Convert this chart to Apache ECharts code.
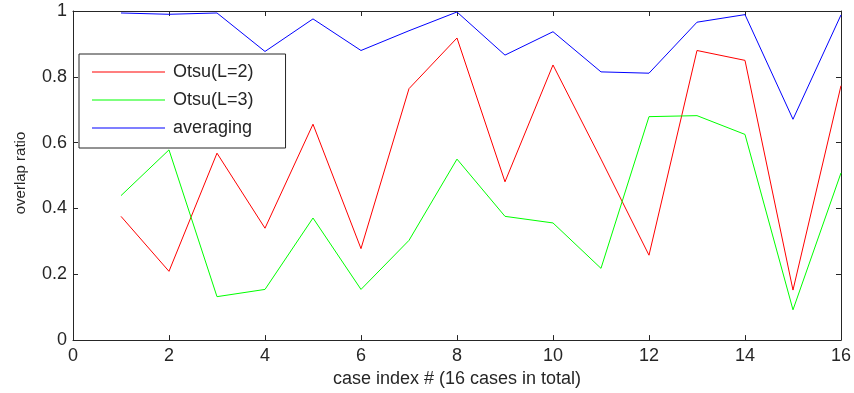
<!DOCTYPE html>
<html>
<head>
<meta charset="utf-8">
<script src="https://cdn.jsdelivr.net/npm/echarts@6/dist/echarts.min.js"></script>
<style>
  html, body { margin: 0; padding: 0; background: #fff; }
  #chart { width: 854px; height: 393px; }
</style>
</head>
<body>
<div id="chart"></div>
<script>
// case index 1..16
const cases = [1, 2, 3, 4, 5, 6, 7, 8, 9, 10, 11, 12, 13, 14, 15, 16];
const otsu2 = [0.376, 0.209, 0.568, 0.340, 0.656, 0.278, 0.764, 0.918, 0.481, 0.836, 0.550, 0.258, 0.880, 0.850, 0.152, 0.773];
const otsu3 = [0.439, 0.578, 0.132, 0.154, 0.371, 0.154, 0.303, 0.550, 0.376, 0.356, 0.218, 0.679, 0.682, 0.625, 0.092, 0.508];
const averaging = [0.994, 0.990, 0.994, 0.877, 0.976, 0.880, 0.940, 0.997, 0.866, 0.937, 0.815, 0.811, 0.966, 0.989, 0.671, 0.988];
const seriesNames = ['Otsu(L=2)', 'Otsu(L=3)', 'averaging'];
const colors = ['#ff0000', '#00ff00', '#0000ff'];

const font = 'Liberation Sans, Arial, sans-serif';
const pairs = arr => cases.map((c, i) => [c, arr[i]]);

const chart = echarts.init(document.getElementById('chart'));

// shared look of the box axes (ticks inside, like matlab)
const boxAxis = (extra) => Object.assign({
  axisLine: { show: true, onZero: false, lineStyle: { color: '#262626', width: 1 } },
  axisTick: { show: true, inside: true, length: 5, lineStyle: { color: '#262626' } },
  splitLine: { show: false },
}, extra);

chart.setOption({
  animation: false,
  backgroundColor: '#fff',
  grid: { left: 73, right: 11, top: 11, bottom: 51 },
  xAxis: [
    boxAxis({
      type: 'value', min: 0, max: 16, interval: 2, position: 'bottom',
      name: 'case index # (16 cases in total)', nameLocation: 'middle', nameGap: 28,
      nameTextStyle: { fontFamily: font, fontSize: 18, color: '#262626' },
      axisLabel: { fontFamily: font, fontSize: 18, color: '#262626', margin: 7 },
    }),
    boxAxis({ type: 'value', min: 0, max: 16, interval: 2, position: 'top', axisLabel: { show: false } }),
  ],
  yAxis: [
    boxAxis({
      type: 'value', min: 0, max: 1, interval: 0.2, position: 'left',
      axisLabel: { fontFamily: font, fontSize: 18, color: '#262626', margin: 6 },
    }),
    boxAxis({ type: 'value', min: 0, max: 1, interval: 0.2, position: 'right', axisLabel: { show: false } }),
  ],
  // y axis title drawn as rotated text
  graphic: [{
    type: 'text',
    x: 21, y: 173,
    rotation: Math.PI / 2,
    style: {
      text: 'overlap ratio',
      font: '15px Liberation Sans, Arial, sans-serif',
      fill: '#262626',
      align: 'center',
      verticalAlign: 'middle',
    },
  }],
  legend: {
    orient: 'vertical',
    left: 79, top: 54,
    data: seriesNames,
    icon: 'rect',
    itemWidth: 73, itemHeight: 1,
    itemGap: 10,
    padding: [9, 32, 11, 13],
    backgroundColor: '#fff',
    borderColor: '#262626', borderWidth: 1,
    textStyle: { fontFamily: font, fontSize: 18, color: '#262626', padding: [0, 0, 0, 3] },
  },
  series: [otsu2, otsu3, averaging].map((arr, i) => ({
    name: seriesNames[i],
    type: 'line',
    data: pairs(arr),
    symbol: 'none',
    color: colors[i],
    lineStyle: { color: colors[i], width: 1 },
  })),
});
</script>
</body>
</html>
